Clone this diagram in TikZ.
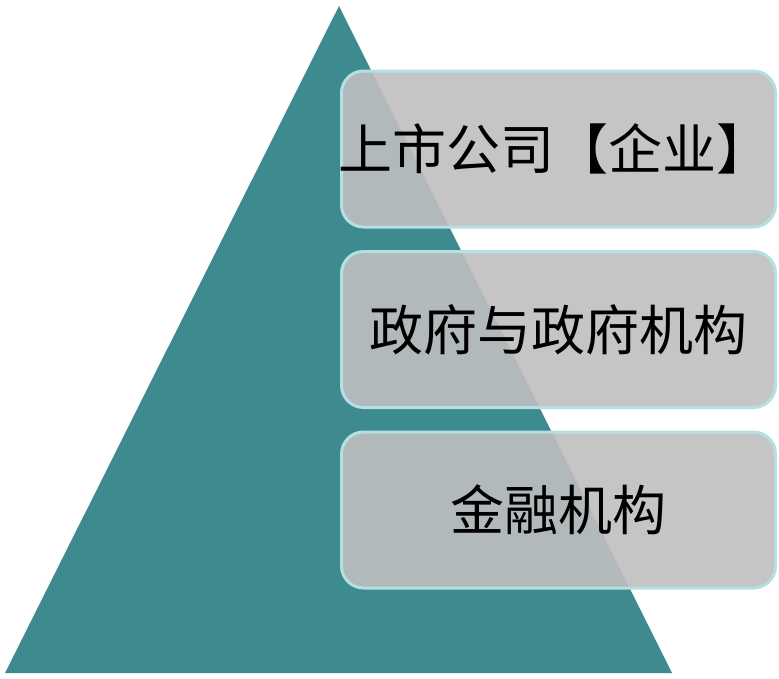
\documentclass[tikz,border=0pt]{standalone}
\usepackage{fontspec}
\usepackage{xcolor}
\usetikzlibrary{positioning}
\newfontfamily\cjk{Noto Sans CJK SC}
\definecolor{teal}{rgb}{0.24, 0.54, 0.56}
\definecolor{boxgray}{rgb}{0.75, 0.75, 0.75}
\definecolor{rim}{rgb}{0.71, 0.88, 0.89}

\begin{document}
\begin{tikzpicture}[x=1pt,y=-1pt,level/.style={rectangle,rounded corners=22pt,draw=rim,line width=3pt,fill=boxgray,fill opacity=0.9,text opacity=1,minimum width=434pt,minimum height=156pt,inner sep=0pt,font=\cjk\fontsize{54}{57}\selectfont}]
    \useasboundingbox (0,0) rectangle (779,678);
    \coordinate (top) at (339,6);
    \coordinate (bl) at (5,673);
    \coordinate (br) at (672,673);
    \fill[teal] (top) -- (bl) -- (br) -- cycle;

    \node[level] (1) at (558.5,149) {\hspace*{-8pt}上市公司【企业】};
    \node[level,below=21.5pt of 1] (2) {政府与政府机构};
    \node[level,below=21.5pt of 2] (3) {金融机构};
\end{tikzpicture}
\end{document}
